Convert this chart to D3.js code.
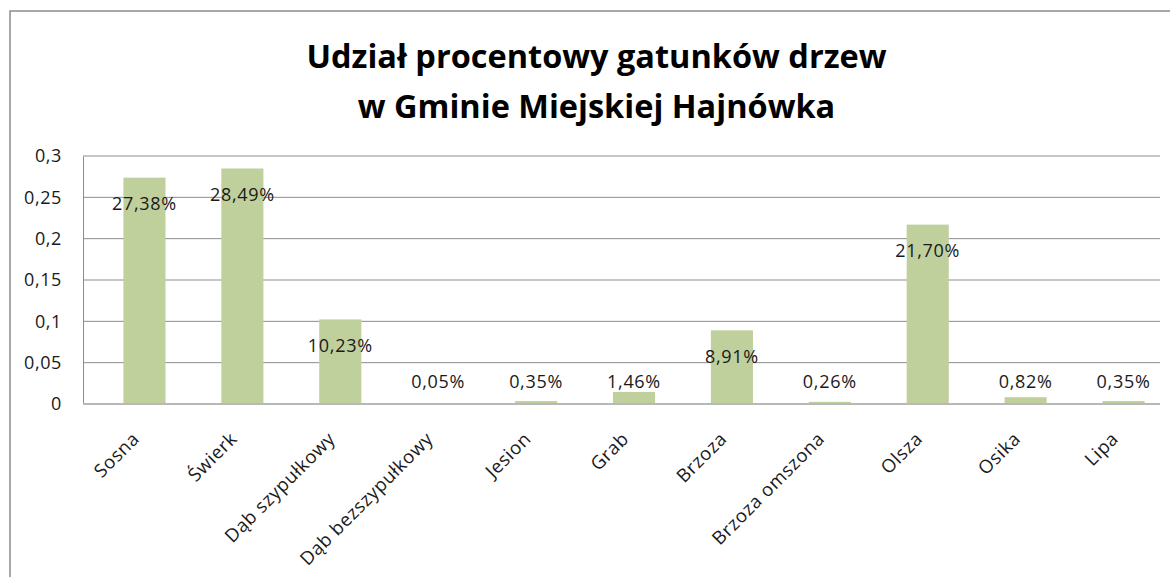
<!DOCTYPE html>
<html>
<head>
<meta charset="utf-8">
<script src="https://cdn.jsdelivr.net/npm/d3@7"></script>
<style>
  html, body { margin: 0; padding: 0; background: #fff; }
  svg { display: block; }
  text { font-family: "Open Sans", "Noto Sans", sans-serif; }
</style>
</head>
<body>
<svg id="chart" width="1170" height="577"></svg>
<script>
const categories = ["Sosna", "Świerk", "Dąb szypułkowy", "Dąb bezszypułkowy", "Jesion", "Grab", "Brzoza", "Brzoza omszona", "Olsza", "Osika", "Lipa"];
const values = [0.2738, 0.2849, 0.1023, 0.0005, 0.0035, 0.0146, 0.0891, 0.0026, 0.2170, 0.0082, 0.0035];
const yTicks = [0, 0.05, 0.1, 0.15, 0.2, 0.25, 0.3];
const titleLines = ["Udział procentowy gatunków drzew", "w Gminie Miejskiej Hajnówka"];

const pl = d3.formatLocale({decimal: ",", thousands: " ", grouping: [3], currency: ["", " zł"]});
const fmtTick = v => pl.format("~g")(v);
const fmtPct = pl.format(".2%");

const svg = d3.select("#chart");

// outer chart border (extends beyond the visible frame on the right/bottom)
svg.append("rect")
  .attr("x", 10).attr("y", 11).attr("width", 1173).attr("height", 600)
  .attr("fill", "#fff").attr("stroke", "#8c8c8c").attr("stroke-width", 1.5);

// title
const title = svg.append("text")
  .attr("text-anchor", "middle")
  .attr("font-weight", "bold")
  .attr("font-size", 32.5)
  .attr("fill", "#000");
titleLines.forEach((t, i) => {
  title.append("tspan").attr("x", 596.5).attr("y", 68 + i * 50).text(t);
});

const plot = {left: 83, right: 1160, top: 156, bottom: 404};

const y = d3.scaleLinear().domain([0, 0.3]).range([plot.bottom, plot.top]);
const x = d3.scaleBand().domain(categories)
  .range([95.5, 1172.5]).paddingInner(0.57).paddingOuter(0.285);

// gridlines
svg.append("g")
  .selectAll("line")
  .data(yTicks.filter(d => d > 0))
  .join("line")
  .attr("x1", plot.left).attr("x2", plot.right)
  .attr("y1", d => y(d)).attr("y2", d => y(d))
  .attr("stroke", "#8c8c8c").attr("stroke-width", 1);

// y axis
const yAxis = svg.append("g")
  .attr("transform", `translate(${plot.left},0)`)
  .call(d3.axisLeft(y).tickValues(yTicks).tickFormat(fmtTick).tickSize(0).tickPadding(21));
yAxis.select(".domain").attr("stroke", "#8c8c8c").attr("stroke-width", 1);
yAxis.selectAll("text")
  .attr("font-size", 18).attr("fill", "#1a1a1a")
  .style("font-family", '"Open Sans", sans-serif')
  .attr("letter-spacing", 0.6);

// bars
svg.append("g")
  .selectAll("rect")
  .data(values)
  .join("rect")
  .attr("x", (d, i) => x(categories[i]))
  .attr("width", x.bandwidth())
  .attr("y", d => y(d))
  .attr("height", d => y(0) - y(d))
  .attr("fill", "#bfd09d");

// x axis baseline
const xAxis = svg.append("g")
  .attr("transform", `translate(0,${plot.bottom})`)
  .call(d3.axisBottom(x).tickSize(0).tickFormat(""));
xAxis.select(".domain").attr("d", `M${plot.left},0H${plot.right}`)
  .attr("stroke", "#b8b8b8").attr("stroke-width", 2);

// category labels (rotated)
svg.append("g")
  .selectAll("text")
  .data(categories)
  .join("text")
  .attr("transform", d => `translate(${x(d) + x.bandwidth() / 2 - 4},440) rotate(-45)`)
  .attr("text-anchor", "end")
  .attr("font-size", 18.5)
  .attr("letter-spacing", 0.6)
  .attr("fill", "#1a1a1a")
  .text(d => d);

// data labels
svg.append("g")
  .selectAll("text")
  .data(values)
  .join("text")
  .attr("x", (d, i) => x(categories[i]) + x.bandwidth() / 2)
  .attr("y", d => Math.min(y(d) + 26, 381) + 6.5)
  .attr("text-anchor", "middle")
  .attr("font-size", 18)
  .attr("letter-spacing", 0.7)
  .attr("fill", "#1a1a1a")
  .text(d => fmtPct(d));
</script>
</body>
</html>
